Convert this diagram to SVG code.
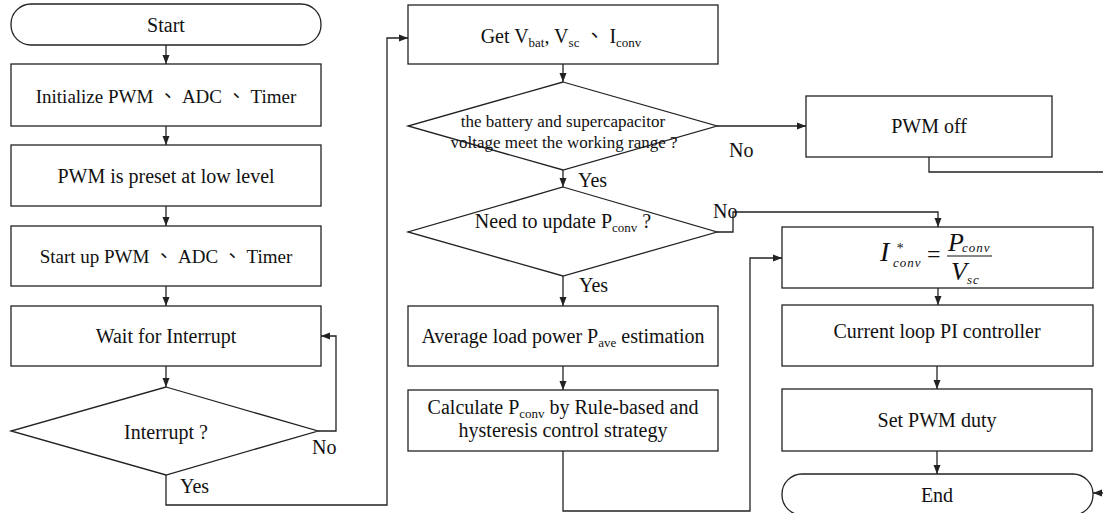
<svg xmlns="http://www.w3.org/2000/svg" width="1103" height="513" viewBox="0 0 1103 513">
<style>
.n{fill:#fff;stroke:#222;stroke-width:1.3}
.t{font-family:"Liberation Serif","Noto Sans CJK TC",serif;font-size:20px;fill:#111;text-anchor:middle}
.s{font-size:13px}
.d{font-size:17px}
.k{font-size:19px}
.l{font-family:"Liberation Serif",serif;font-size:20px;fill:#111}
.c{fill:none;stroke:#222;stroke-width:1.3;marker-end:url(#a)}
.m{font-family:"Liberation Serif",serif;font-style:italic;fill:#111}
</style>
<defs>
<marker id="a" markerWidth="9" markerHeight="8" refX="9" refY="4" orient="auto" markerUnits="userSpaceOnUse">
<path d="M0,0.5 L9,4 L0,7.5 z" fill="#222"/>
</marker>
</defs>
<g id="connectors">
<path class="c" d="M166,45V64"/>
<path class="c" d="M166,126V145"/>
<path class="c" d="M166,206V226"/>
<path class="c" d="M166,286V306"/>
<path class="c" d="M166,366V387"/>
<path class="c" d="M318,431H336V336H321"/>
<path class="c" d="M166,475V505H387V38H408"/>
<path class="c" d="M563,64V82"/>
<path class="c" d="M717,126H806"/>
<path class="c" d="M563,170V187"/>
<path class="c" d="M717,232H733V212H938V227"/>
<path class="c" d="M563,276V306"/>
<path class="c" d="M563,366V390"/>
<path class="c" d="M563,451V511H750V258H782"/>
<path class="c" d="M929,157V172H1112V493H1093"/>
<path class="c" d="M938,288V305"/>
<path class="c" d="M937,366V389"/>
<path class="c" d="M937,451V474"/>
<text class="l" x="312" y="454">No</text>
<text class="l" x="180" y="493">Yes</text>
<text class="l" x="729" y="157">No</text>
<text class="l" x="578" y="187">Yes</text>
<text class="l" x="713" y="218">No</text>
<text class="l" x="579" y="292">Yes</text>
</g>
<g id="start">
<rect class="n" x="11" y="4" width="310" height="41" rx="20" ry="20"/>
<text class="t" x="166" y="32">Start</text>
</g>
<g id="init">
<rect class="n" x="11" y="64" width="310" height="62"/>
<text class="t k" x="166" y="103">Initialize PWM 、 ADC 、 Timer</text>
</g>
<g id="preset">
<rect class="n" x="11" y="145" width="310" height="61"/>
<text class="t" x="166" y="183">PWM is preset at low level</text>
</g>
<g id="startup">
<rect class="n" x="11" y="226" width="310" height="60"/>
<text class="t k" x="166" y="263">Start up PWM 、 ADC 、 Timer</text>
</g>
<g id="wait">
<rect class="n" x="11" y="306" width="310" height="60"/>
<text class="t" x="166" y="343">Wait for Interrupt</text>
</g>
<g id="interrupt">
<polygon class="n" points="166,387 318,431 166,475 11,431"/>
<text class="t" x="166" y="439">Interrupt ?</text>
</g>
<g id="get">
<rect class="n" x="408" y="5" width="310" height="59"/>
<text class="t" x="561" y="43">Get V<tspan class="s" dy="4">bat</tspan><tspan dy="-4">, V</tspan><tspan class="s" dy="4">sc</tspan><tspan dy="-4"> 、 I</tspan><tspan class="s" dy="4">conv</tspan></text>
</g>
<g id="range">
<polygon class="n" points="563,82 717,126 563,170 408,126"/>
<text class="t d" x="563" y="127">the battery and supercapacitor</text>
<text class="t d" x="564" y="148">voltage meet the working range ?</text>
</g>
<g id="update">
<polygon class="n" points="563,187 717,232 563,276 408,232"/>
<text class="t" x="563" y="228">Need to update P<tspan class="s" dy="4">conv</tspan><tspan dy="-4"> ?</tspan></text>
</g>
<g id="average">
<rect class="n" x="408" y="306" width="310" height="60"/>
<text class="t" x="563" y="343">Average load power P<tspan class="s" dy="4">ave</tspan><tspan dy="-4"> estimation</tspan></text>
</g>
<g id="calc">
<rect class="n" x="408" y="390" width="310" height="61"/>
<text class="t" x="563" y="414">Calculate P<tspan class="s" dy="4">conv</tspan><tspan dy="-4"> by Rule-based and</tspan></text>
<text class="t" x="563" y="437">hysteresis control strategy</text>
</g>
<g id="pwmoff">
<rect class="n" x="806" y="96" width="246" height="61"/>
<text class="t" x="929" y="133">PWM off</text>
</g>
<g id="formula">
<rect class="n" x="782" y="227" width="311" height="61"/>
<text class="m" x="880" y="261" font-size="28">I</text>
<text class="m" x="896" y="253" font-size="14">*</text>
<text class="m" x="893" y="267" font-size="13" letter-spacing="1">conv</text>
<text x="927" y="262" font-family="Liberation Serif,serif" font-size="24" fill="#111">=</text>
<line x1="947" y1="256" x2="992" y2="256" stroke="#111" stroke-width="1.2"/>
<text class="m" x="948" y="251" font-size="26">P</text>
<text class="m" x="962" y="252" font-size="13" letter-spacing="1">conv</text>
<text class="m" x="951" y="280" font-size="26">V</text>
<text class="m" x="967" y="284" font-size="13" letter-spacing="1">sc</text>
</g>
<g id="current">
<rect class="n" x="782" y="305" width="311" height="61"/>
<text class="t" x="937" y="338">Current loop PI controller</text>
</g>
<g id="setduty">
<rect class="n" x="782" y="389" width="310" height="62"/>
<text class="t" x="937" y="427">Set PWM duty</text>
</g>
<g id="end">
<rect class="n" x="782" y="474" width="311" height="41" rx="20" ry="20"/>
<text class="t" x="937" y="502">End</text>
</g>
</svg>
